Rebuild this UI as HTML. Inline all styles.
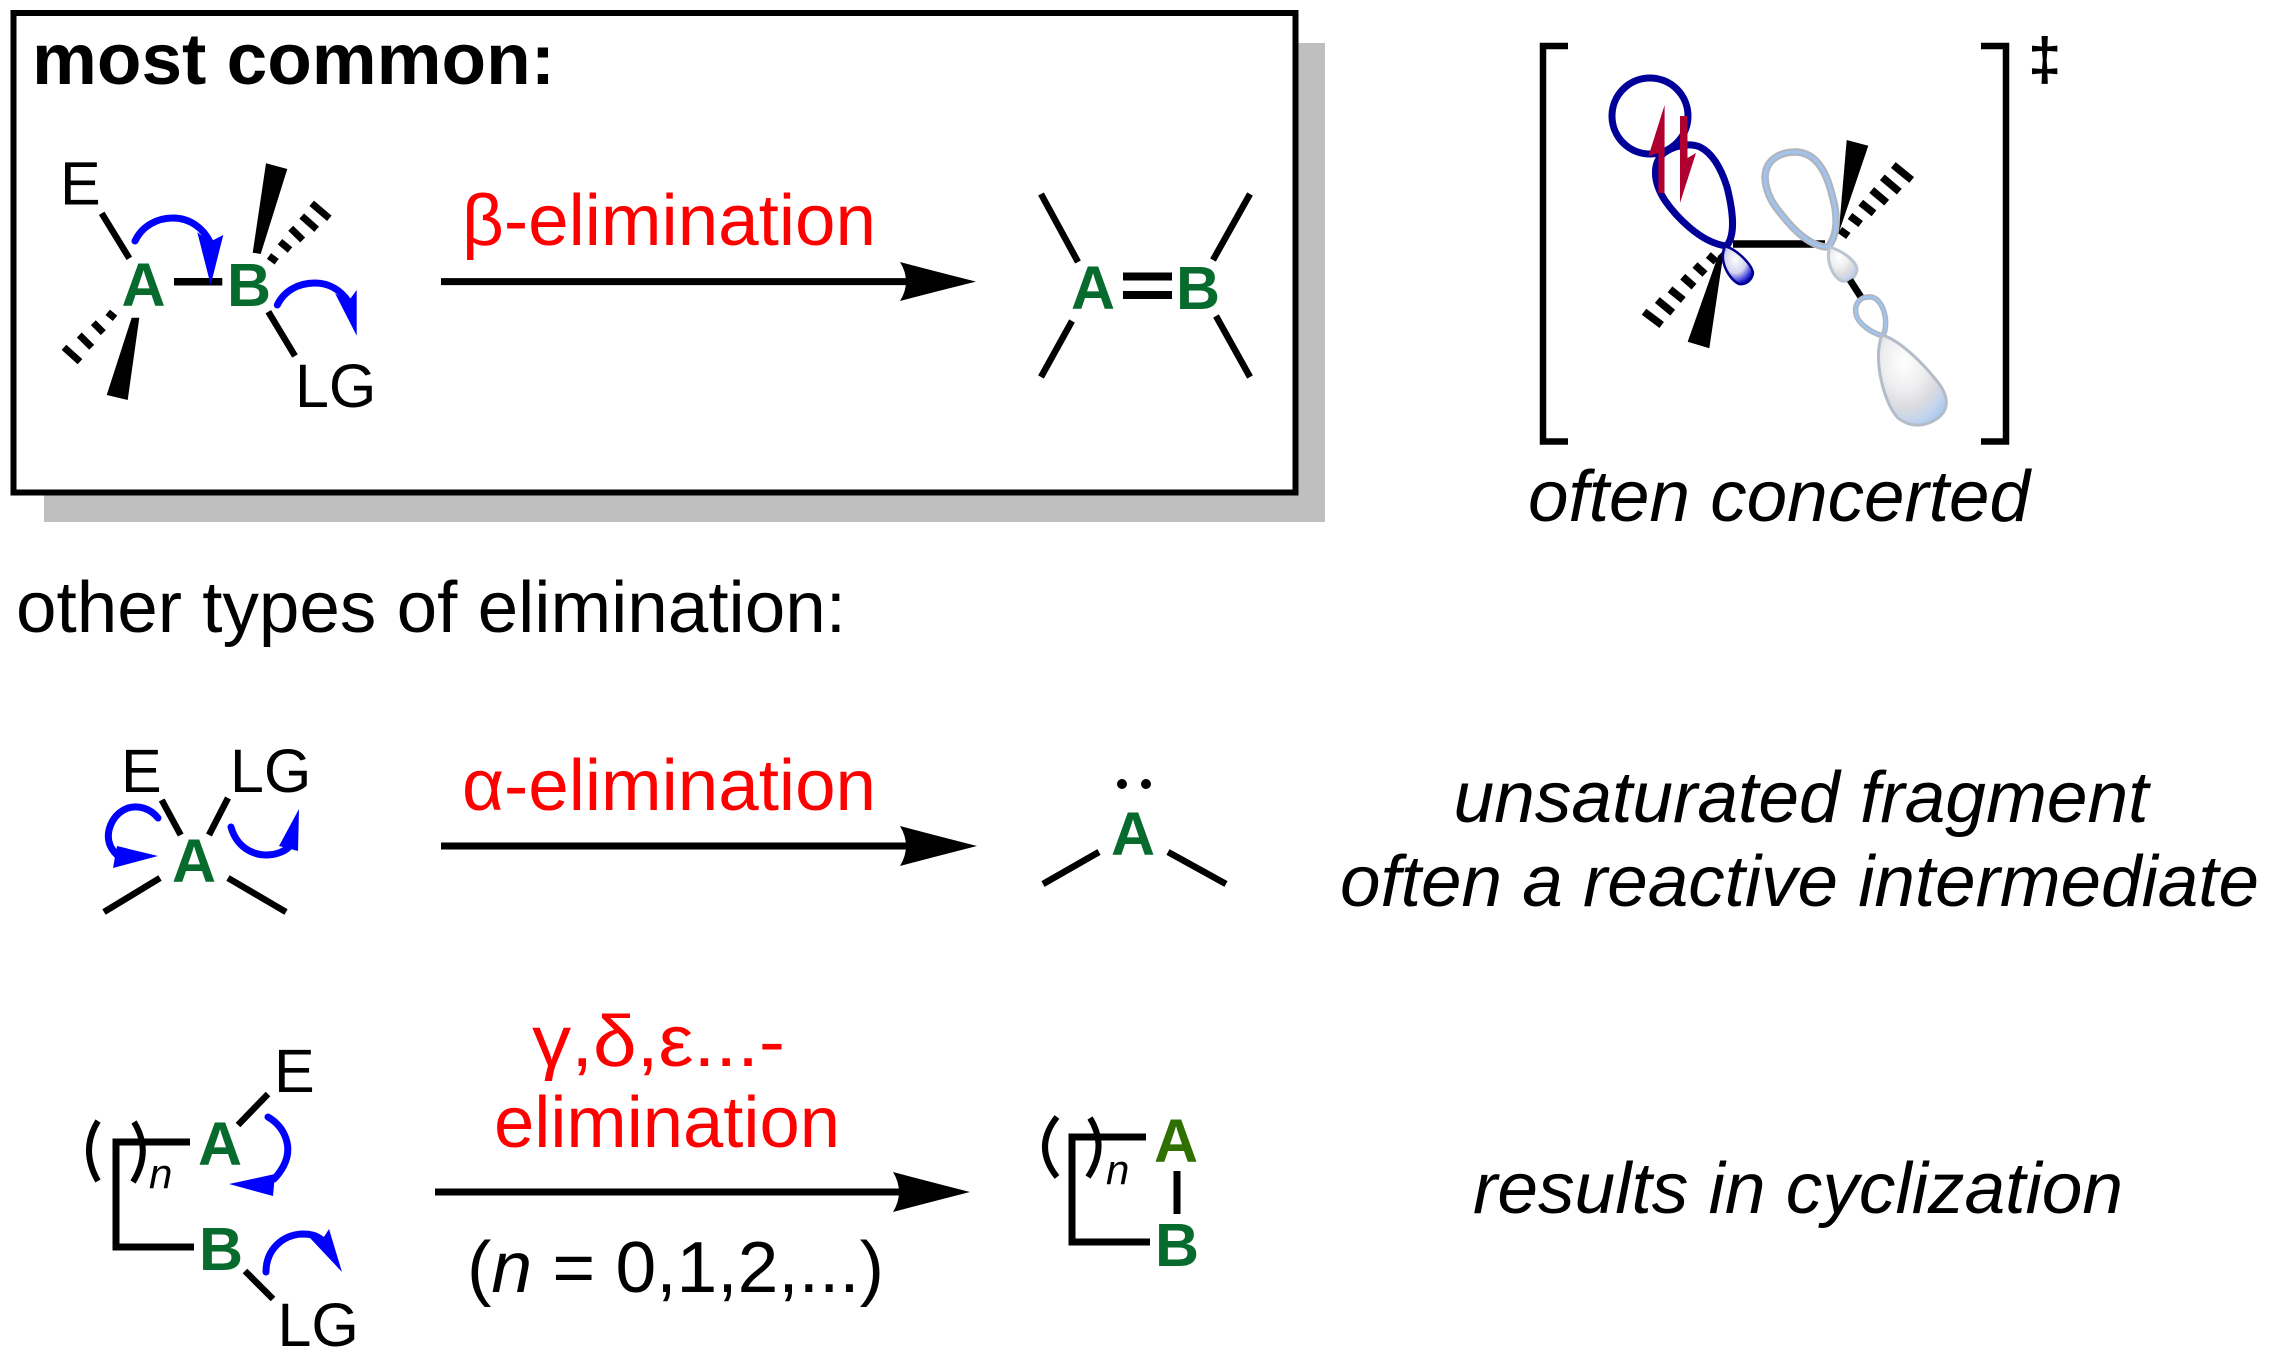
<!DOCTYPE html>
<html><head><meta charset="utf-8"><style>
html,body{margin:0;padding:0;background:#fff}
svg{display:block}
text{font-family:"Liberation Sans",sans-serif;font-size:72px}
.l{font-size:61px;fill:#000}
.g{font-size:61px;font-weight:bold;fill:#066b2c;text-anchor:middle}
.r{fill:#f00}
.i{font-style:italic;fill:#000}
.b{stroke:#000;stroke-width:6.5;fill:none}
.c{stroke:#00f;stroke-width:7;fill:none;stroke-linecap:round}
.h{fill:#00f}
.d{stroke:#000;stroke-width:7;fill:none}
</style></head><body>
<svg xmlns="http://www.w3.org/2000/svg" width="2269" height="1355" viewBox="0 0 2269 1355">
<defs>
<radialGradient id="gb" cx="42%" cy="35%" r="65%"><stop offset="0" stop-color="#fff"/><stop offset=".55" stop-color="#d4d4ee"/><stop offset=".85" stop-color="#5050e0"/><stop offset="1" stop-color="#1010c0"/></radialGradient>
<radialGradient id="gl" cx="38%" cy="30%" r="78%"><stop offset="0" stop-color="#fff"/><stop offset=".4" stop-color="#eeeef0"/><stop offset=".65" stop-color="#dcdce0"/><stop offset=".85" stop-color="#c4d4ec"/><stop offset="1" stop-color="#a8caf0"/></radialGradient>
</defs>
<rect width="2269" height="1355" fill="#fff"/>

<!-- top box -->
<rect x="44" y="43" width="1281" height="479" fill="#bfbfbf"/>
<rect x="13.5" y="13" width="1282" height="479.5" fill="#fff" stroke="#000" stroke-width="6"/>
<text x="32" y="84" font-weight="bold" textLength="523" lengthAdjust="spacingAndGlyphs">most common:</text>

<text class="l" x="60" y="204.5">E</text>
<text class="l" x="295" y="407">LG</text>
<text class="g" x="143.5" y="306">A</text>
<text class="g" x="249" y="306">B</text>
<path class="b" d="M101.7,213.3L129.3,258.3M268.3,311.7L295,356"/>
<path d="M174,281.7H222.3" stroke="#000" stroke-width="7.5"/>
<path class="d" d="M64,347.3L80,361.7M79.3,335L91.7,347.3M93.3,322.7L103.3,332.7M107.7,312.3L115,318.3"/>
<polygon points="131.7,317.7 139.3,317.7 127.7,400 106.7,395"/>
<polygon points="266,163.3 287.3,169 260.7,254 252.7,252.7"/>
<path class="d" d="M311.7,203.3L329.3,218.3M301.7,216L316.7,229.3M290.7,228.3L302.7,240M280,241.7L290,250M269,256L276.7,261.7"/>
<path class="c" d="M135,241C142,226 157,218 173,218C190,218 203,228 210,242"/>
<polygon class="h" points="210.7,285 197.3,232.3 210,241.7 223.3,235"/>
<path class="c" d="M277.3,305C284,291 298,283 315,283C330,283 341,291 348,301"/>
<polygon class="h" points="356.7,335.7 335,293.3 348,301.7 356.7,290"/>

<line x1="441" y1="281.6" x2="910" y2="281.6" stroke="#000" stroke-width="7"/>
<path d="M976,281.6Q930,270 900,262Q912,281.6 900,301Q930,293 976,281.6Z"/>
<text class="r" x="462" y="245" textLength="414" lengthAdjust="spacingAndGlyphs">β-elimination</text>

<text class="g" x="1093" y="309">A</text>
<text class="g" x="1198" y="309">B</text>
<path d="M1123,276.5H1172M1123,295H1172" stroke="#000" stroke-width="8"/>
<path class="b" d="M1041,194L1078,262M1250,194L1213,260M1072,321L1041,377M1216,316L1250,377"/>

<!-- transition state -->
<path d="M1568,46H1543V441.5H1568M1981,46H2006V441.5H1981" fill="none" stroke="#000" stroke-width="6.5"/>
<text x="2028" y="80" font-weight="bold" style="font-size:60px">‡</text>

<path d="M1733,244H1825" stroke="#000" stroke-width="7.5" fill="none"/>
<polygon points="1718,256 1724,250 1709.3,348.3 1687.7,341.7"/>
<path stroke="#000" stroke-width="7.5" fill="none" d="M1644,311.7L1661.7,325M1657.3,300L1672.7,312.7M1670,289.3L1683.3,300M1682.7,276.7L1694,286.7M1695,265L1705,274M1708.3,255L1716,261.7"/>
<polygon points="1838.7,233 1846.7,140 1868.3,145.7"/>
<path stroke="#000" stroke-width="7.5" fill="none" d="M1840,230L1848.3,236M1850,216L1860.7,224M1860.7,202.7L1874,213.3M1871.7,190L1886.7,202.7M1882.3,177.3L1899.3,191.7M1893.3,165L1911.7,180"/>

<circle cx="1650" cy="116" r="38" fill="none" stroke="#000099" stroke-width="7"/>
<path d="M1726.7,246C1735,235 1734,215 1727,187C1721,168 1712,153 1700,147C1688,142 1672,147 1664,153C1653,162 1652,180 1664.6,200C1675,215 1700,243 1726.7,246Z" fill="none" stroke="#000099" stroke-width="7"/>
<polygon points="1664.6,105 1648.5,156 1658.4,153 1658.4,193 1664.5,193" fill="#b00030"/>
<polygon points="1680,116 1687.5,116 1687.5,158 1696,153 1680,203" fill="#b00030"/>
<path d="M1725,246C1738,250 1752,265 1753,273C1752,281 1745,285 1739,284C1730,280 1718,262 1725,246Z" fill="url(#gb)" stroke="#000090" stroke-width="2.5"/>

<path d="M1828,247C1838,235 1838,215 1832,195C1826,170 1815,152 1795,152C1780,152 1765,160 1765,178C1766,195 1775,207 1782,215C1795,232 1812,247 1828,247Z" fill="none" stroke="#b0b4bc" stroke-width="7.5"/>
<path d="M1828,247C1838,235 1838,215 1832,195C1826,170 1815,152 1795,152C1780,152 1765,160 1765,178C1766,195 1775,207 1782,215C1795,232 1812,247 1828,247Z" fill="none" stroke="#9fc4f2" stroke-width="3"/>
<path d="M1830,247C1845,252 1857,262 1857,270C1855,280 1848,282 1842,281C1833,278 1825,260 1830,247Z" fill="url(#gl)" stroke="#bcc4d0" stroke-width="3"/>
<line x1="1850" y1="280" x2="1861.7" y2="298.3" stroke="#000" stroke-width="7"/>
<path d="M1883,336C1890,320 1882,298 1871,297C1860,296 1854,304 1856,314C1858,324 1872,333 1883,336Z" fill="none" stroke="#b0b4bc" stroke-width="5.5"/>
<path d="M1883,336C1890,320 1882,298 1871,297C1860,296 1854,304 1856,314C1858,324 1872,333 1883,336Z" fill="none" stroke="#9fc4f2" stroke-width="2.5"/>
<path d="M1882,335C1900,340 1925,365 1940,385C1950,400 1948,412 1935,420C1922,428 1908,426 1898,418C1885,405 1872,360 1882,335Z" fill="url(#gl)" stroke="#b4bcc8" stroke-width="3"/>

<text class="i" x="1528" y="521" textLength="502" lengthAdjust="spacingAndGlyphs">often concerted</text>

<text x="16" y="632" textLength="830" lengthAdjust="spacingAndGlyphs">other types of elimination:</text>

<!-- row 2 -->
<text class="l" x="121" y="792">E</text>
<text class="l" x="230" y="792">LG</text>
<text class="g" x="194" y="882">A</text>
<path class="b" d="M161.7,800L180.7,835M228,798L209,835M160,878L104,912M228,878L286,912"/>
<path class="c" d="M158,818C150,808 138,805 128,808C112,814 105,832 110,845C112,850 115,853 118,856"/>
<polygon class="h" points="158,856 113,868 117,846"/>
<path class="c" d="M231,827C236,845 250,855 267,855C275,855 283,852 288,848"/>
<polygon class="h" points="299,809 279,846 298,851"/>

<line x1="441" y1="846" x2="910" y2="846" stroke="#000" stroke-width="7"/>
<path d="M977,846Q930,834 900,826Q912,846 900,866Q930,858 977,846Z"/>
<text class="r" x="462" y="810" textLength="414" lengthAdjust="spacingAndGlyphs">α-elimination</text>

<circle cx="1122" cy="784" r="5"/><circle cx="1146" cy="784" r="5"/>
<text class="g" x="1133" y="855">A</text>
<path class="b" d="M1099,852L1043,884M1168,852L1226,884"/>

<text class="i" x="1801" y="822" text-anchor="middle" textLength="695" lengthAdjust="spacingAndGlyphs">unsaturated fragment</text>
<text class="i" x="1340" y="906" textLength="919" lengthAdjust="spacingAndGlyphs">often a reactive intermediate</text>

<!-- row 3 -->
<text class="l" x="274" y="1092">E</text>
<text class="l" x="277.5" y="1346">LG</text>
<text class="g" x="220" y="1165">A</text>
<text class="g" x="221" y="1270">B</text>
<path class="b" d="M268,1094L238,1125M245,1271L273,1299"/>
<path d="M190,1142H116V1247H194" fill="none" stroke="#000" stroke-width="7"/>
<path d="M98,1121Q80,1150 98,1181M134,1122Q152,1151 133,1182" fill="none" stroke="#000" stroke-width="6"/>
<text class="i" x="149" y="1188" style="font-size:42px">n</text>
<path class="c" d="M268,1117C285,1127 293,1147 284,1165C281,1171 278,1175 274,1179"/>
<polygon class="h" points="229,1184 275,1174 273,1196"/>
<path class="c" d="M266,1272C266,1250 282,1235 302,1234C310,1234 316,1235 322,1240"/>
<polygon class="h" points="342,1272 329,1229 322,1240 310,1238"/>

<line x1="435" y1="1192" x2="905" y2="1192" stroke="#000" stroke-width="7"/>
<path d="M970,1192Q923,1180 893,1172Q905,1192 893,1212Q923,1204 970,1192Z"/>
<text class="r" x="532" y="1066" textLength="253" lengthAdjust="spacingAndGlyphs">γ,δ,ε...-</text>
<text class="r" x="494" y="1147" textLength="346" lengthAdjust="spacingAndGlyphs">elimination</text>
<text x="467" y="1292" textLength="417" lengthAdjust="spacingAndGlyphs">(<tspan font-style="italic">n</tspan> = 0,1,2,...)</text>

<path d="M1057,1117Q1033,1147 1057,1177M1090,1118Q1108,1147 1088,1177" fill="none" stroke="#000" stroke-width="6"/>
<path d="M1146,1137H1072V1242H1150" fill="none" stroke="#000" stroke-width="7"/>
<text class="i" x="1106" y="1184" style="font-size:42px">n</text>
<text class="g" x="1176" y="1162" style="fill:#2f7000">A</text>
<line x1="1177" y1="1171" x2="1177" y2="1214" stroke="#000" stroke-width="7"/>
<text class="g" x="1177" y="1266">B</text>

<text class="i" x="1473" y="1213" textLength="650" lengthAdjust="spacingAndGlyphs">results in cyclization</text>
</svg>
</body></html>
